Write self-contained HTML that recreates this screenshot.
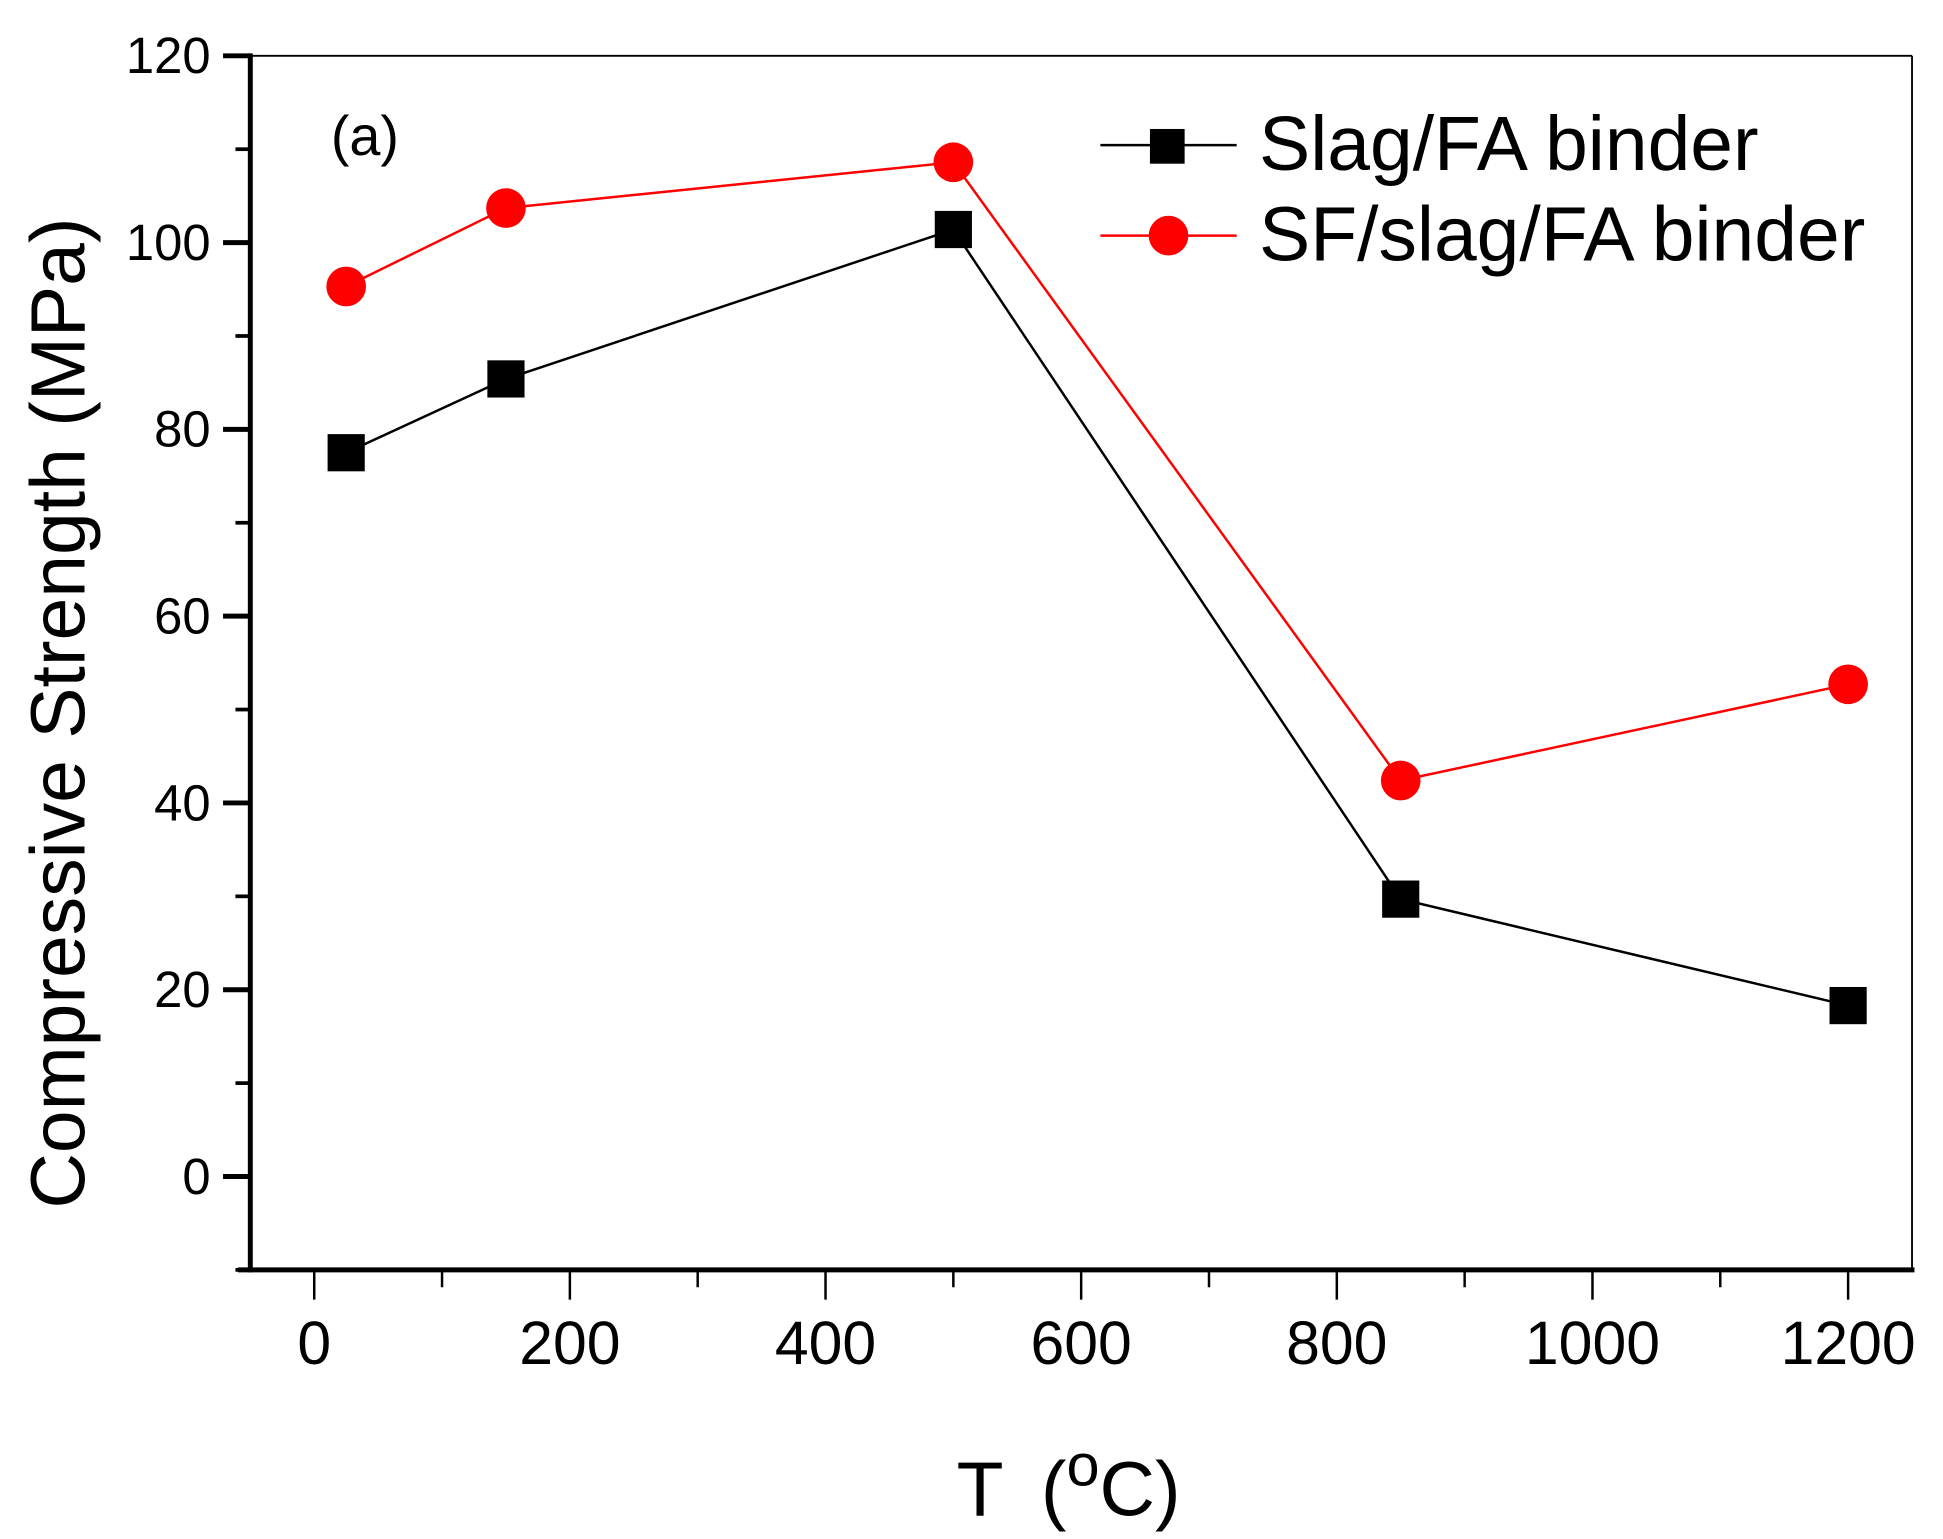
<!DOCTYPE html>
<html><head><meta charset="utf-8"><style>
html,body{margin:0;padding:0;background:#fff;}
svg{display:block;font-family:"Liberation Sans",Arial,sans-serif;}
</style></head><body>
<svg id="chart" width="1943" height="1539" viewBox="0 0 1568 1241" preserveAspectRatio="none" xmlns="http://www.w3.org/2000/svg"></svg>
<script>
const categories = [25, 150, 500, 850, 1200];
const slagValues = [77.5, 85.4, 101.4, 29.7, 18.3];
const sfValues = [95.3, 103.7, 108.6, 42.4, 52.7];
const xTickLabels = ["0","200","400","600","800","1000","1200"];
const yTickLabels = ["0","20","40","60","80","100","120"];

const L=202,R=1543,T=45,B=1024;
const xMin=-50,xMax=1250,yMin=-10,yMax=120;
function xs(v){return L+(v-xMin)/(xMax-xMin)*(R-L);}
function ys(v){return B-(v-yMin)/(yMax-yMin)*(B-T);}
const svg=document.getElementById('chart');
const NS="http://www.w3.org/2000/svg";
function mk(tag,attrs,parent){const e=document.createElementNS(NS,tag);for(const k in attrs)e.setAttribute(k,attrs[k]);(parent||svg).appendChild(e);return e;}

let e;
e=mk('line',{x1:L,y1:T,x2:R,y2:T,stroke:'#000','stroke-width':1.5});


e=mk('line',{x1:R,y1:T,x2:R,y2:B,stroke:'#000','stroke-width':1.5});


e=mk('line',{x1:L,y1:T-2,x2:L,y2:B+2,stroke:'#000','stroke-width':4});


e=mk('line',{x1:L-10,y1:B,x2:R+2,y2:B,stroke:'#000','stroke-width':4});



for(let i=0;i<yTickLabels.length;i++){
  const v=+yTickLabels[i];const y=ys(v);
  e=mk('line',{x1:L-22,y1:y,x2:L,y2:y,stroke:'#000','stroke-width':4});
  
  
  e=mk('text',{x:170,y:y+14,'text-anchor':'end','font-size':41});
  e.textContent=yTickLabels[i];
  
  
}
for(let v=-10;v<=110;v+=20){
  const y=ys(v);
  e=mk('line',{x1:L-12,y1:y,x2:L,y2:y,stroke:'#000','stroke-width':3});
  
  
}
for(let i=0;i<xTickLabels.length;i++){
  const v=+xTickLabels[i];const x=xs(v);
  e=mk('line',{x1:x,y1:B,x2:x,y2:B+24,stroke:'#000','stroke-width':2});
  
  
  e=mk('text',{x:x,y:1100,'text-anchor':'middle','font-size':49});
  e.textContent=xTickLabels[i];
  
  
}
for(let v=100;v<=1100;v+=200){
  const x=xs(v);
  e=mk('line',{x1:x,y1:B,x2:x,y2:B+14,stroke:'#000','stroke-width':2});
  
  
}

e=mk('text',{x:0,y:0,'text-anchor':'middle','font-size':62,transform:'translate(68,575) rotate(-90)'});
e.textContent='Compressive Strength (MPa)';


e=mk('text',{x:772,y:1222,'font-size':62});
e.innerHTML='T <tspan dx="14">(</tspan><tspan dy="-24" font-size="48">o</tspan><tspan dy="24">C)</tspan>';


e=mk('text',{x:267,y:125,'font-size':45});
e.textContent='(a)';



function series(vals,color,shape,name){
  const pts=categories.map((c,i)=>xs(c)+','+ys(vals[i])).join(' ');
  e=mk('polyline',{points:pts,fill:'none',stroke:color,'stroke-width':2});
  
  
  categories.forEach((c,i)=>{
    const x=xs(c),y=ys(vals[i]);
    if(shape==='sq') e=mk('rect',{x:x-15,y:y-15,width:30,height:30,fill:color});
    else e=mk('circle',{cx:x,cy:y,r:16,fill:color});
    
    
  });
}
series(slagValues,'#000','sq','slag-fa');
series(sfValues,'#ff0000','ci','sf-slag-fa');

e=mk('line',{x1:888,y1:117,x2:998,y2:117,stroke:'#000','stroke-width':2});


e=mk('rect',{x:928,y:104,width:28,height:28,fill:'#000'});


e=mk('text',{x:1016,y:137,'font-size':62});
e.textContent='Slag/FA binder';


e=mk('line',{x1:888,y1:190,x2:998,y2:190,stroke:'#ff0000','stroke-width':2});


e=mk('circle',{cx:943,cy:190,r:16,fill:'#ff0000'});


e=mk('text',{x:1016,y:210,'font-size':62});
e.textContent='SF/slag/FA binder';


</script>
</body></html>
